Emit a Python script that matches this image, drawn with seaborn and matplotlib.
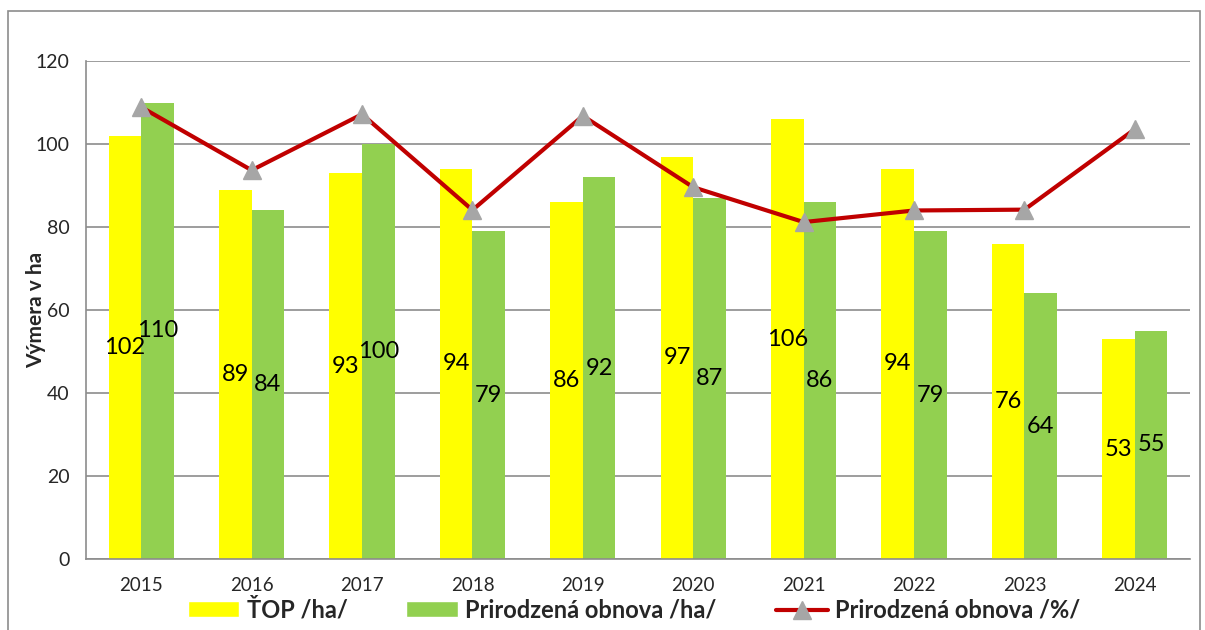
import numpy as np
import pandas as pd
import matplotlib
matplotlib.use("Agg")
import matplotlib.pyplot as plt
from matplotlib.patches import Rectangle, Patch
from matplotlib.lines import Line2D
import seaborn as sns

# data
years = ["2015", "2016", "2017", "2018", "2019", "2020", "2021", "2022", "2023", "2024"]
top_ha = [102, 89, 93, 94, 86, 97, 106, 94, 76, 53]
obnova_ha = [110, 84, 100, 79, 92, 87, 86, 79, 64, 55]
obnova_pct = [108.9, 93.7, 107.2, 84.1, 106.8, 89.6, 81.2, 84.0, 84.2, 103.6]

SERIES = ["ŤOP /ha/", "Prirodzená obnova /ha/"]
LINE_NAME = "Prirodzená obnova /%/"
COLORS = ["#FFFF00", "#92D050"]
RED = "#C00000"
GREY = "#A6A6A6"

df = pd.DataFrame({
    "rok": years * 2,
    "hodnota": top_ha + obnova_ha,
    "seria": [SERIES[0]] * len(years) + [SERIES[1]] * len(years),
})

sns.set_style("white")
plt.rcParams["font.family"] = ["Lato", "DejaVu Sans"]

fig = plt.figure(figsize=(12.05, 6.3), dpi=100)
ax = fig.add_axes([0.0714, 0.1127, 0.9162, 0.7903])

sns.barplot(data=df, x="rok", y="hodnota", hue="seria", palette=COLORS,
            width=0.59, gap=0, saturation=1, ax=ax, legend=False, zorder=2,
            linewidth=0, edgecolor="none")

# value labels in the middle of each bar
for cont in ax.containers:
    for bar in cont:
        h = bar.get_height()
        ax.text(bar.get_x() + bar.get_width() / 2, h / 2, f"{h:.0f}",
                ha="center", va="center", fontsize=17, color="black", zorder=4)

# percentage line
xpos = np.arange(len(years))
ax.plot(xpos, obnova_pct, color=RED, lw=3, zorder=3)
ax.plot(xpos, obnova_pct, ls="none", marker="^", ms=13, color=GREY,
        markeredgecolor=GREY, zorder=5)

ax.set_ylim(0, 120)
ax.set_yticks(range(0, 121, 20))
ax.set_xlim(-0.5, len(years) - 0.5)
ax.yaxis.grid(True, color="#8C8C8C", lw=1.2)
ax.set_axisbelow(True)

for s in ["top", "right"]:
    ax.spines[s].set_visible(False)
for s in ["left", "bottom"]:
    ax.spines[s].set_color("#8C8C8C")
    ax.spines[s].set_linewidth(1.2)

ax.set_xticks(xpos)
ax.set_xticks(np.arange(-0.5, len(years), 1), minor=True)
ax.tick_params(axis="x", which="major", length=0, labelsize=13.5, pad=13)
ax.tick_params(axis="x", which="minor", length=6, color="#8C8C8C", width=1.2)
ax.tick_params(axis="y", length=6, color="#8C8C8C", width=1.2, labelsize=14, pad=6)
ax.set_xlabel("")
ax.set_ylabel("Výmera v ha", fontsize=15, fontweight="bold")
ax.yaxis.set_label_coords(-0.036, 0.5)

handles = [
    Patch(facecolor=COLORS[0], label=SERIES[0]),
    Patch(facecolor=COLORS[1], label=SERIES[1]),
    Line2D([], [], color=RED, lw=3, marker="^", ms=13, markerfacecolor=GREY,
           markeredgecolor=GREY, label=LINE_NAME),
]
fig.legend(handles=handles, loc="center", bbox_to_anchor=(0.526, 0.032), ncol=3,
           frameon=False, prop={"size": 17, "weight": "bold"},
           handlelength=2.2, handleheight=0.65, columnspacing=2.5, handletextpad=0.3)

# outer chart frame
fig.patches.append(Rectangle((0.0066, -0.01), 0.989, 0.993, transform=fig.transFigure,
                             fill=False, edgecolor="#8C8C8C", lw=1.2))

fig.savefig("out.png", dpi=100)
